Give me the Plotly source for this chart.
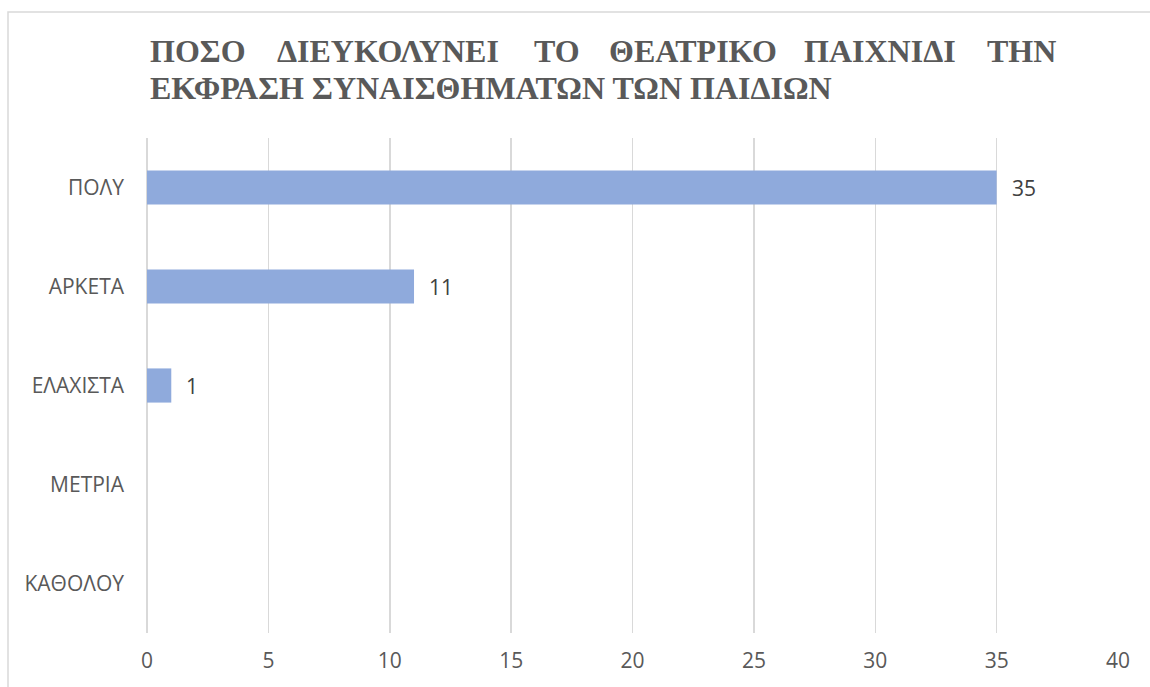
import plotly.graph_objects as go

categories = ["ΠΟΛΥ", "ΑΡΚΕΤΑ", "ΕΛΑΧΙΣΤΑ", "ΜΕΤΡΙΑ", "ΚΑΘΟΛΟΥ"]
values = [35, 11, 1, 0, 0]
x_ticks = [0, 5, 10, 15, 20, 25, 30, 35, 40]
title_line1 = ["ΠΟΣΟ", "ΔΙΕΥΚΟΛΥΝΕΙ", "ΤΟ", "ΘΕΑΤΡΙΚΟ", "ΠΑΙΧΝΙΔΙ", "ΤΗΝ"]
title_line2 = "ΕΚΦΡΑΣΗ ΣΥΝΑΙΣΘΗΜΑΤΩΝ ΤΩΝ ΠΑΙΔΙΩΝ"

W, H = 1150, 687
L, R, T, B = 147, 32, 138, 54
pw, ph = W - L - R, H - T - B

def px(x):
    return (x - L) / pw

def py(y):
    return (H - B - y) / ph

grey = "#595959"
grid = "#D9D9D9"
serif = "Liberation Serif, Times New Roman, DejaVu Serif, serif"
sans = "Open Sans, Liberation Sans, sans-serif"

fig = go.Figure()
fig.add_trace(go.Bar(
    x=values, y=categories, orientation="h",
    marker=dict(color="#8FAADC", line=dict(width=0)),
    width=0.345, hoverinfo="skip",
))

annotations = []
for v, c in zip(values, categories):
    if v > 0:
        annotations.append(dict(
            x=v, y=c, xref="x", yref="y", text=str(v), showarrow=False,
            xanchor="left", yanchor="middle", xshift=13,
            font=dict(family=sans, size=21, color="#404040"),
        ))

# title, first line justified across the width
word_x = [148, 275, 532, 607, 802, 985]
for w, xx in zip(title_line1, word_x):
    annotations.append(dict(
        x=px(xx), y=py(51), xref="paper", yref="paper", text=f"<b>{w}</b>",
        showarrow=False, xanchor="left", yanchor="middle",
        font=dict(family=serif, size=32, color=grey),
    ))
annotations.append(dict(
    x=px(148), y=py(88), xref="paper", yref="paper", text=f"<b>{title_line2}</b>",
    showarrow=False, xanchor="left", yanchor="middle",
    font=dict(family=serif, size=32, color=grey),
))

shapes = [dict(
    type="rect", xref="paper", yref="paper",
    x0=px(8), x1=px(1170), y0=py(710), y1=py(12),
    line=dict(color=grid, width=1.5), fillcolor="rgba(0,0,0,0)", layer="below",
)]

fig.update_layout(
    width=W, height=H,
    margin=dict(l=L, r=R, t=T, b=B, autoexpand=False),
    paper_bgcolor="white", plot_bgcolor="white",
    showlegend=False,
    annotations=annotations, shapes=shapes,
    xaxis=dict(
        range=[0, 40], tickvals=x_ticks, showgrid=True, gridcolor=grid, gridwidth=1.5,
        zeroline=True, zerolinecolor=grid, zerolinewidth=1.5, showline=False,
        ticks="", ticklabelstandoff=13,
        tickfont=dict(family=sans, size=21, color=grey), fixedrange=True,
    ),
    yaxis=dict(
        categoryorder="array", categoryarray=categories, autorange="reversed",
        showgrid=False, zeroline=False, showline=False, ticks="",
        ticklabelstandoff=22,
        tickfont=dict(family=sans, size=21, color=grey), fixedrange=True,
    ),
)

fig.write_html(
    "out.html",
    config={"displayModeBar": False, "staticPlot": True},
    post_script="document.body.style.margin='0';document.body.style.overflow='hidden';",
)
